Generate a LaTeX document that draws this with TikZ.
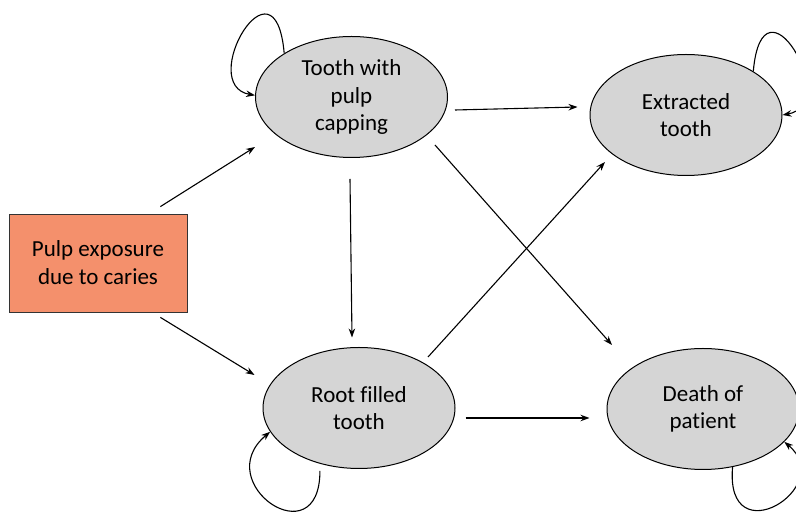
\documentclass[tikz,border=0pt]{standalone}
\usepackage{fontspec}
\setmainfont[Ligatures=NoCommon]{Carlito}
\usetikzlibrary{shapes.geometric,arrows.meta}
\definecolor{exposurefill}{HTML}{F4906C}
\definecolor{statefill}{HTML}{D5D5D5}
\begin{document}
\begin{tikzpicture}[x=1pt, y=1pt,
    state/.style={ellipse, draw=black, line width=1pt, fill=statefill, inner sep=0pt,
        minimum width=192pt, minimum height=121pt, align=center,
        font=\fontsize{23}{27.5}\selectfont},
    exposure/.style={rectangle, draw=black!80, line width=0.8pt, fill=exposurefill,
        minimum width=178pt, minimum height=98pt, align=center,
        font=\fontsize{23}{28}\selectfont},
    arr/.style={-{Stealth[length=9pt,width=6.5pt]}, line width=1.1pt}]
    \useasboundingbox (0,0) rectangle (796,519);
    \clip (0,0) rectangle (796,519);
    % Draw the states
    \node[exposure] (expo) at (98,256) {Pulp exposure\\due to caries};
    \node[state] (pulp) at (351.5,422) {Tooth with\\pulp\\capping};
    \node[state] (extr) at (686,404) {Extracted\\tooth};
    \node[state] (root) at (359,111) {Root filled\\tooth};
    \node[state] (death) at (703,110) {Death of\\patient};
    % Draw the transitions
    \draw[arr] ([shift={(-27,7)}]expo.north east) -- ([shift={(0,-50)}]pulp.west);
    \draw[arr] ([shift={(-27,-5)}]expo.south east) -- ([shift={(-8,33)}]root.west);
    \draw[arr] ([shift={(7,-13)}]pulp.east) -- ([shift={(-12,8)}]extr.west);
    \draw[arr] ([shift={(-1.5,-21)}]pulp.south) -- ([shift={(-7,9.5)}]root.north);
    \draw[arr] ([shift={(83.5,-48)}]pulp.center) -- ([shift={(-91,64)}]death.center);
    \draw[arr] ([shift={(69,51)}]root.center) -- ([shift={(-81,-47)}]extr.center);
    \draw[arr] ([shift={(10,-10)}]root.east) -- ([shift={(-17,-9)}]death.west);
    % Draw the self-loops
    \draw[arr] (pulp.147) to[out=95, in=170, out distance=105pt, in distance=60pt] (pulp.179);
    \draw[arr] (extr.33) to[out=85, in=10, out distance=105pt, in distance=60pt] (extr.0);
    \draw[arr, shorten <=7pt] (root.235) to[out=-90, in=220, out distance=95pt, in distance=80pt] (root.195);
    \draw[arr] (death.-63) to[out=-95, in=-40, out distance=90pt, in distance=70pt] (death.-22);
\end{tikzpicture}
\end{document}
